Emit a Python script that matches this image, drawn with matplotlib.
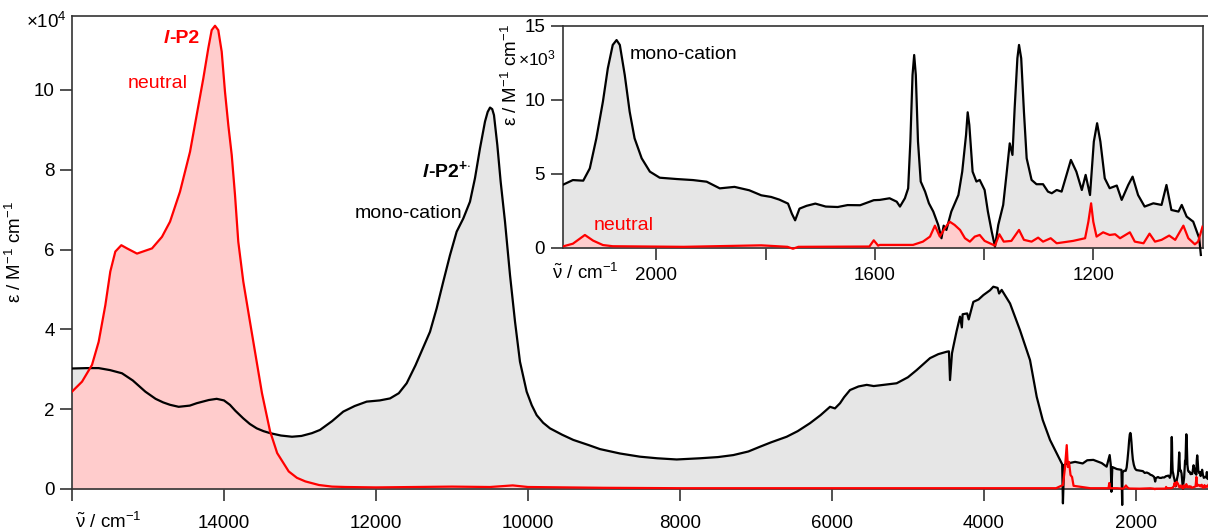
import numpy as np
import matplotlib
matplotlib.use("Agg")
import matplotlib.pyplot as plt

plt.rcParams['font.family'] = ['Liberation Sans', 'DejaVu Sans']
plt.rcParams['mathtext.fontset'] = 'custom'
plt.rcParams['mathtext.rm'] = 'Liberation Sans'
plt.rcParams['mathtext.it'] = 'Liberation Sans:italic'
plt.rcParams['mathtext.bf'] = 'Liberation Sans:bold'

# ---------------- main spectrum (units of 1e4 M^-1 cm^-1) ----------------
cation_nu = [16000, 15800, 15649, 15500, 15342, 15200, 15035, 14900, 14800, 14710,
             14596, 14450, 14359, 14200, 14096, 14000, 13922, 13850, 13746, 13660,
             13569, 13480, 13394, 13250, 13105, 12980, 12842, 12737, 12578, 12430,
             12280, 12122, 11950, 11815, 11700, 11596, 11480, 11377, 11289, 11201,
             11114, 11026, 10938, 10851, 10763, 10697, 10631, 10565, 10530, 10499,
             10470, 10447, 10403, 10359, 10302, 10236, 10170, 10105, 10017, 9950,
             9885, 9800, 9710, 9550, 9403, 9200, 9052, 8789, 8526, 8300,
             8043, 7736, 7500, 7298, 7100, 6946, 6800, 6595, 6450, 6288,
             6150, 6025, 5960, 5893, 5840, 5762, 5650, 5542, 5450, 5323,
             5148, 5000, 4885, 4709, 4600, 4490, 4460, 4446, 4420, 4402,
             4360, 4314, 4290, 4280, 4220, 4200, 4139, 4070, 4007, 3920,
             3876, 3820, 3800, 3766, 3656, 3525, 3393, 3305, 3226, 3130,
             3000, 2970, 2960, 2945, 2900, 2850, 2800, 2700, 2640, 2560,
             2450, 2385, 2345, 2330, 2322, 2310, 2250, 2190, 2180, 2175]
cation_eps = [3.02, 3.03, 3.03, 2.98, 2.90, 2.72, 2.44, 2.26, 2.17, 2.11,
              2.06, 2.09, 2.15, 2.23, 2.26, 2.22, 2.11, 1.96, 1.77, 1.63,
              1.52, 1.45, 1.40, 1.34, 1.31, 1.33, 1.40, 1.48, 1.70, 1.94,
              2.08, 2.19, 2.22, 2.27, 2.40, 2.65, 3.10, 3.55, 3.94, 4.53,
              5.20, 5.86, 6.45, 6.78, 7.20, 7.79, 8.54, 9.21, 9.45, 9.56,
              9.52, 9.37, 8.62, 7.70, 6.70, 5.36, 4.19, 3.19, 2.44, 2.10,
              1.85, 1.66, 1.52, 1.36, 1.23, 1.10, 1.00, 0.89, 0.81, 0.77,
              0.74, 0.77, 0.80, 0.85, 0.94, 1.06, 1.17, 1.31, 1.45, 1.65,
              1.85, 2.06, 2.02, 2.15, 2.30, 2.48, 2.57, 2.61, 2.58, 2.61,
              2.65, 2.80, 2.98, 3.28, 3.38, 3.44, 3.45, 2.73, 3.40, 3.57,
              3.95, 4.32, 4.05, 4.38, 4.40, 4.25, 4.69, 4.75, 4.86, 4.98,
              5.07, 5.04, 4.90, 4.99, 4.65, 3.98, 3.23, 2.31, 1.73, 1.23,
              0.73, 0.62, -0.36, 0.60, 0.64, 0.66, 0.68, 0.64, 0.72, 0.73,
              0.65, 0.56, 0.85, 0.60, -0.07, 0.55, 0.50, 0.48, -0.40, 0.42]

neutral_nu = [16000, 15868, 15737, 15649, 15561, 15496, 15430, 15351, 15276, 15145,
              14947, 14816, 14710, 14579, 14447, 14359, 14272, 14206, 14162, 14118,
              14075, 14030, 13987, 13943, 13898, 13855, 13812, 13746, 13658, 13569,
              13500, 13394, 13300, 13148, 13040, 12929, 12750, 12578, 12400, 12000,
              11500, 11000, 10500, 10200, 10000, 9000, 8000, 7000, 6000, 5000,
              4000, 3500, 3050, 2960, 2935, 2910, 2895, 2880, 2860, 2840,
              2820, 2600, 2360, 2350, 2340, 2250, 2175]
neutral_eps = [2.44, 2.69, 3.11, 3.69, 4.61, 5.45, 5.95, 6.11, 6.03, 5.90,
               6.03, 6.32, 6.70, 7.45, 8.45, 9.37, 10.29, 11.05, 11.50, 11.61,
               11.50, 10.96, 9.96, 9.12, 8.37, 7.37, 6.20, 5.20, 4.19, 3.19,
               2.40, 1.45, 0.90, 0.44, 0.28, 0.19, 0.10, 0.06, 0.05, 0.04,
               0.05, 0.06, 0.05, 0.09, 0.05, 0.03, 0.02, 0.02, 0.02, 0.02,
               0.02, 0.02, 0.02, 0.10, 0.50, 1.10, 0.55, 0.68, 0.35, 0.30,
               0.08, 0.02, 0.02, 0.15, 0.02, 0.02, 0.01]

# ---------------- inset: IR region (units of 1e3 M^-1 cm^-1) ----------------
ir_cation_nu = [2172, 2153, 2134, 2122, 2110, 2098, 2089, 2080, 2073, 2067,
                2058, 2049, 2040, 2027, 2012, 1994, 1963, 1933, 1908, 1884,
                1857, 1830, 1808, 1790, 1775, 1759, 1752, 1746, 1738, 1725,
                1709, 1690, 1668, 1650, 1627, 1602, 1591, 1573, 1560, 1554,
                1545, 1539, 1535, 1531, 1528, 1525, 1521, 1516, 1508, 1501,
                1493, 1484, 1478, 1474, 1469, 1460, 1447, 1440, 1433, 1430,
                1427, 1421, 1414, 1408, 1399, 1393, 1386, 1380, 1374, 1365,
                1359, 1353, 1348, 1344, 1339, 1336, 1332, 1327, 1322, 1313,
                1304, 1292, 1283, 1276, 1267, 1258, 1249, 1241, 1231, 1221,
                1214, 1206, 1199, 1193, 1187, 1179, 1170, 1157, 1148, 1136,
                1128, 1118, 1106, 1090, 1075, 1066, 1057, 1044, 1038, 1029,
                1017, 1006, 1003]
ir_cation_eps = [4.26, 4.59, 4.55, 5.38, 7.41, 9.89, 12.14, 13.72, 14.05, 13.72,
                 11.69, 9.21, 7.41, 6.06, 5.16, 4.75, 4.66, 4.59, 4.48, 4.03,
                 4.13, 3.90, 3.56, 3.45, 3.27, 3.00, 2.32, 1.87, 2.66, 2.85,
                 3.00, 2.80, 2.77, 2.90, 2.89, 3.23, 3.25, 3.36, 3.13, 2.80,
                 3.36, 4.03, 7.19, 11.69, 13.04, 11.69, 7.19, 4.49, 3.81, 3.02,
                 2.46, 1.56, 0.66, 1.51, 1.22, 2.46, 3.58, 5.16, 7.64, 9.17,
                 8.31, 5.16, 4.49, 4.60, 3.92, 2.46, 1.11, 0.09, 1.56, 2.91,
                 4.94, 7.07, 6.29, 9.44, 12.82, 13.72, 12.82, 9.21, 6.06, 4.60,
                 4.31, 4.31, 3.81, 3.70, 3.92, 3.81, 4.94, 5.95, 5.16, 3.92,
                 4.94, 3.58, 7.19, 8.43, 7.19, 4.71, 4.04, 4.22, 3.25, 4.26,
                 4.82, 3.58, 2.80, 3.02, 2.91, 4.26, 2.57, 2.46, 2.91, 2.12,
                 1.78, 0.66, -0.47]

ir_neutral_nu = [2172, 2153, 2131, 2116, 2098, 2080, 1950, 1808, 1760, 1750,
                 1740, 1610, 1602, 1594, 1591, 1530, 1512, 1499, 1490, 1481,
                 1472, 1463, 1454, 1444, 1435, 1426, 1417, 1408, 1399, 1380,
                 1372, 1364, 1350, 1336, 1327, 1313, 1301, 1292, 1278, 1267,
                 1237, 1215, 1209, 1204, 1200, 1194, 1182, 1170, 1160, 1151,
                 1133, 1124, 1108, 1097, 1087, 1075, 1061, 1050, 1035, 1026,
                 1014, 1008, 1000]
ir_neutral_eps = [0.10, 0.29, 0.88, 0.50, 0.20, 0.12, 0.08, 0.18, 0.08, -0.05,
                  0.08, 0.10, 0.52, 0.16, 0.21, 0.21, 0.43, 0.77, 1.51, 0.77,
                  1.33, 1.78, 1.56, 1.22, 0.66, 0.43, 0.77, 0.88, 0.48, 0.16,
                  0.93, 0.43, 0.48, 1.22, 0.55, 0.43, 0.70, 0.43, 0.66, 0.32,
                  0.48, 0.66, 1.78, 3.02, 1.78, 0.77, 1.06, 0.88, 0.93, 0.66,
                  1.06, 0.43, 0.32, 0.97, 0.43, 0.55, 0.84, 0.55, 1.51, 0.66,
                  0.25, 0.43, 1.44]

main_xticks = [16000, 14000, 12000, 10000, 8000, 6000, 4000, 2000]
main_xticklabels = ['', '14000', '12000', '10000', '8000', '6000', '4000', '2000']
main_yticks = [0, 2, 4, 6, 8, 10]
ir_xticks = [2000, 1800, 1600, 1400, 1200]
ir_xticklabels = ['2000', '', '1600', '', '1200']
ir_yticks = [0, 5, 10, 15]

# ---------------- styling ----------------
BLACK = 'black'
RED = '#ff0000'
GREY_FILL = '#e6e6e6'
PINK_FILL = '#ffcccc'
SPINE = '#333333'
FS = 13.5
NU_LABEL = r'$\tilde{\mathrm{\nu}}$ / cm$^{-1}$'
EPS_LABEL = '\u03b5 / M$^{-1}$ cm$^{-1}$'

W, H = 1208, 530
fig = plt.figure(figsize=(W / 100, H / 100), dpi=100)


def fx(px):
    return px / W


def fy(py):
    return 1 - py / H


# full main curve = visible region + IR region rescaled to 1e4
m_nu = np.concatenate([np.array(cation_nu, float), np.array(ir_cation_nu, float)])
m_eps = np.concatenate([np.array(cation_eps, float), np.array(ir_cation_eps, float) / 10])
n_nu = np.concatenate([np.array(neutral_nu, float), np.array(ir_neutral_nu, float)])
n_eps = np.concatenate([np.array(neutral_eps, float), np.array(ir_neutral_eps, float) / 10])

# main axes
y0_px, ytop_px = 489.0, 15.7
ppu = 39.9
ymin = -0.45
ymax = (y0_px - ytop_px) / ppu
ybot_px = y0_px - ymin * ppu
ax = fig.add_axes([fx(72), fy(ybot_px), 1 - fx(72), (ybot_px - ytop_px) / H])
ax.set_xlim(16000, 1051)
ax.set_ylim(ymin, ymax)
ax.set_facecolor('none')

ax.fill_between(m_nu, m_eps, 0, color=GREY_FILL, lw=0, zorder=1)
ax.fill_between(n_nu, n_eps, 0, color=PINK_FILL, lw=0, zorder=2)
ax.plot(m_nu, m_eps, color=BLACK, lw=1.6, zorder=3, solid_joinstyle='round')
ax.plot(n_nu, n_eps, color=RED, lw=1.6, zorder=4, solid_joinstyle='round')

for s in ['left', 'bottom', 'top']:
    ax.spines[s].set_color(SPINE)
    ax.spines[s].set_linewidth(1.2)
ax.spines['right'].set_visible(False)
ax.spines['bottom'].set_position(('data', 0))
ax.spines['left'].set_bounds(0, ymax)
ax.set_xticks(main_xticks)
ax.set_xticklabels(main_xticklabels)
ax.set_yticks(main_yticks)
ax.tick_params(direction='out', length=8.5, width=1.2, color=SPINE, labelsize=FS, pad=4)
ax.tick_params(axis='x', pad=10)

fig.text(fx(75), fy(522), NU_LABEL, fontsize=FS, ha='left', va='center')
fig.text(fx(15), fy(252), EPS_LABEL, fontsize=FS, rotation=90, ha='center', va='center')
fig.text(fx(26), fy(28), '\u00d710$^{4}$', fontsize=FS, ha='left', va='baseline')

# labels in main
t1 = ax.text(14793, 11.17, 'l', color=RED, fontsize=14, fontweight='bold', fontstyle='italic',
             ha='left', va='baseline', zorder=6)
ax.annotate('-P2', xy=(1, 0), xycoords=t1, color=RED, fontsize=14, fontweight='bold',
            ha='left', va='bottom', zorder=6)
ax.text(15263, 10.06, 'neutral', color=RED, fontsize=14, ha='left', va='baseline', zorder=6)
t2 = ax.text(11381, 7.81, 'l', color=BLACK, fontsize=14, fontweight='bold', fontstyle='italic',
             ha='left', va='baseline', zorder=6)
ax.annotate(r'-P2$^{\mathbf{+\!\cdot}}$', xy=(1, 0), xycoords=t2, color=BLACK, fontsize=14,
            fontweight='bold', ha='left', va='bottom', zorder=6)
ax.text(12276, 6.79, 'mono-cation', color=BLACK, fontsize=14, ha='left', va='baseline', zorder=6)

# inset axes
i_left, i_right = 562.5, 1202.5
i_y0, i_top = 248.0, 26.0
ippu = (i_y0 - i_top) / 15
iymin = -0.6
i_bot = i_y0 - iymin * ippu
ins = fig.add_axes([fx(i_left), fy(i_bot), (i_right - i_left) / W, (i_bot - i_top) / H])
ins.set_xlim(2172, 1000)
ins.set_ylim(iymin, 15)
ins.set_facecolor('none')
ins.fill_between(ir_cation_nu, ir_cation_eps, 0, color=GREY_FILL, lw=0, zorder=1)
ins.fill_between(ir_neutral_nu, ir_neutral_eps, 0, color=PINK_FILL, lw=0, zorder=2)
ins.plot(ir_cation_nu, ir_cation_eps, color=BLACK, lw=1.6, zorder=3, solid_joinstyle='round')
ins.plot(ir_neutral_nu, ir_neutral_eps, color=RED, lw=1.6, zorder=4, solid_joinstyle='round')
for s in ['left', 'bottom', 'top', 'right']:
    ins.spines[s].set_color(SPINE)
    ins.spines[s].set_linewidth(1.2)
ins.spines['bottom'].set_position(('data', 0))
ins.spines['left'].set_bounds(0, 15)
ins.spines['right'].set_bounds(0, 15)
ins.set_xticks(ir_xticks)
ins.set_xticklabels(ir_xticklabels)
ins.set_yticks(ir_yticks)
ins.tick_params(direction='out', length=8.5, width=1.2, color=SPINE, labelsize=FS, pad=4)
ins.tick_params(axis='x', pad=5)

fig.text(fx(552), fy(273), NU_LABEL, fontsize=FS, ha='left', va='center')
fig.text(fx(511), fy(75), EPS_LABEL, fontsize=FS, rotation=90, ha='center', va='center')
fig.text(fx(518), fy(65), '\u00d710$^{3}$', fontsize=FS - 1, ha='left', va='baseline')
ins.text(2049, 12.75, 'mono-cation', color=BLACK, fontsize=14, ha='left', va='baseline', zorder=6)
ins.text(2115, 1.20, 'neutral', color=RED, fontsize=14, ha='left', va='baseline', zorder=6)

fig.savefig('out.png', dpi=100)
